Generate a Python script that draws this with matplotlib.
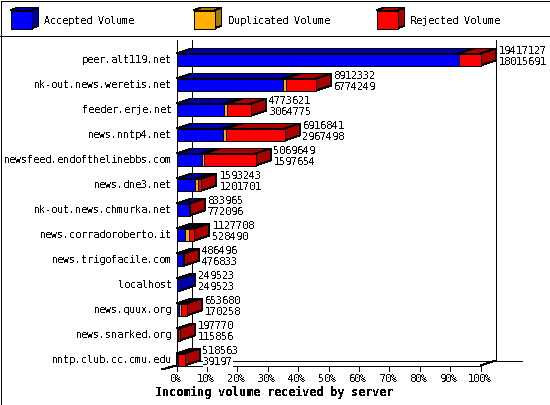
import matplotlib
matplotlib.use('Agg')
import matplotlib.pyplot as plt
from matplotlib.patches import Polygon, Rectangle

plt.rcParams['text.hinting_factor'] = 1

servers = ['peer.alt119.net', 'nk-out.news.weretis.net', 'feeder.erje.net',
           'news.nntp4.net', 'newsfeed.endofthelinebbs.com', 'news.dne3.net',
           'nk-out.news.chmurka.net', 'news.corradoroberto.it',
           'news.trigofacile.com', 'localhost', 'news.quux.org',
           'news.snarked.org', 'nntp.club.cc.cmu.edu']
total_volume = [19417127, 8912332, 4773621, 6916841, 5069649, 1593243, 833965,
                1127708, 486496, 249523, 653680, 197770, 518563]
accepted_volume = [18015691, 6774249, 3064775, 2967498, 1597654, 1201701, 772096,
                   528490, 476833, 249523, 170258, 115856, 39197]
# not printed on the chart
duplicated_volume = [0, 190000, 170000, 190000, 170000, 170000, 0,
                     260000, 0, 0, 100000, 0, 70000]
tick_labels = ['0%', '10%', '20%', '30%', '40%', '50%', '60%', '70%', '80%', '90%', '100%']
legend_names = ['Accepted Volume', 'Duplicated Volume', 'Rejected Volume']

FRONT = {'a': '#0000ff', 'd': '#ffb000', 'r': '#ff0000'}
SIDE = {'a': '#0000aa', 'd': '#aa7700', 'r': '#aa0000'}

# pixel layout of the plot
X0, X100 = 176.5, 480.5
DX, DY = 15, 5
Y_FRONT, Y_BACK = 365.5, 360.5
ROW0, ROW_STEP = 59.5, 25
BAR_H = 6
LW = 0.72
FONT = 'DejaVu Sans Mono'

fig = plt.figure(figsize=(5.5, 4.05), dpi=100)
ax = fig.add_axes([0, 0, 1, 1])
ax.set_xlim(0, 550)
ax.set_ylim(405, 0)
ax.axis('off')


def to_x(value):
    return X0 + value / max(total_volume) * (X100 - X0)


def line(xs, ys, z=1):
    ax.plot(xs, ys, color='black', lw=LW, antialiased=False, solid_capstyle='butt', zorder=z)


def label(x, y, s, ha='left', size=7.2, weight='normal', bbox=None, z=5):
    ax.text(x, y, s, ha=ha, va='center', family=FONT, fontsize=size, weight=weight,
            antialiased=False, color='black', bbox=bbox, zorder=z)


def box(x1, x2, top, bottom, key, z, dx=DX, dy=DY):
    kw = dict(edgecolor='black', lw=LW, antialiased=False, zorder=z, joinstyle='miter')
    ax.add_patch(Polygon([(x1, top), (x1 + dx, top - dy), (x2 + dx, top - dy), (x2, top)],
                         facecolor=SIDE[key], **kw))
    ax.add_patch(Polygon([(x2, top), (x2 + dx, top - dy), (x2 + dx, bottom - dy), (x2, bottom)],
                         facecolor=SIDE[key], **kw))
    ax.add_patch(Rectangle((x1, top), x2 - x1, bottom - top, facecolor=FRONT[key], **kw))


# frame and legend
ax.add_patch(Rectangle((0.5, 0.5), 549, 404, fill=False, edgecolor='black', lw=LW,
                       antialiased=False, zorder=10))
line([0, 550], [35.5, 35.5])
legend_keys = ['a', 'd', 'r']
legend_x = [10.5, 193.5, 376.5]
for name, key, lx in zip(legend_names, legend_keys, legend_x):
    box(lx, lx + 21, 10.5, 28.5, key, 2, dx=7, dy=3)
    label(lx + 34, 20.5, name)

# walls and floor
line([X0, X0], [40, Y_FRONT])
line([X0 + DX, X0 + DX], [40, Y_BACK])
line([X100 + DX, X100 + DX], [40, Y_BACK])
line([X0, X100], [Y_FRONT, Y_FRONT])
line([X0 + DX, 522], [Y_BACK, Y_BACK])
line([X0 - DX, X0], [369.5, Y_FRONT])
line([X100, X100 + DX], [Y_FRONT, Y_BACK])
for i, tick in enumerate(tick_labels):
    tx = X0 + (X100 - X0) * i / (len(tick_labels) - 1)
    line([tx, tx], [Y_FRONT, 370.5])
    label(tx - 1, 378.5, tick, ha='center')
label(274, 392.5, 'Incoming volume received by server', ha='center', size=8.4, weight='bold')

# bars
for i, name in enumerate(servers):
    row = ROW0 + i * ROW_STEP
    accepted = accepted_volume[i]
    duplicated = duplicated_volume[i]
    total = total_volume[i]
    label(172, row + 0.5, name, ha='right')
    z = 3 + i * 0.01
    left = 0
    for key, size in (('a', accepted), ('d', duplicated), ('r', total - accepted - duplicated)):
        if size <= 0:
            continue
        box(to_x(left), to_x(left + size), row - BAR_H, row + BAR_H, key, z)
        z += 0.001
        left += size
    end = to_x(total) + DX + 3
    white = dict(facecolor='white', edgecolor='none', pad=0)
    label(end, row - 8.5, str(total), bbox=white, z=4)
    label(end, row + 2.5, str(accepted), bbox=white, z=4)

fig.savefig('out.png', dpi=100)
